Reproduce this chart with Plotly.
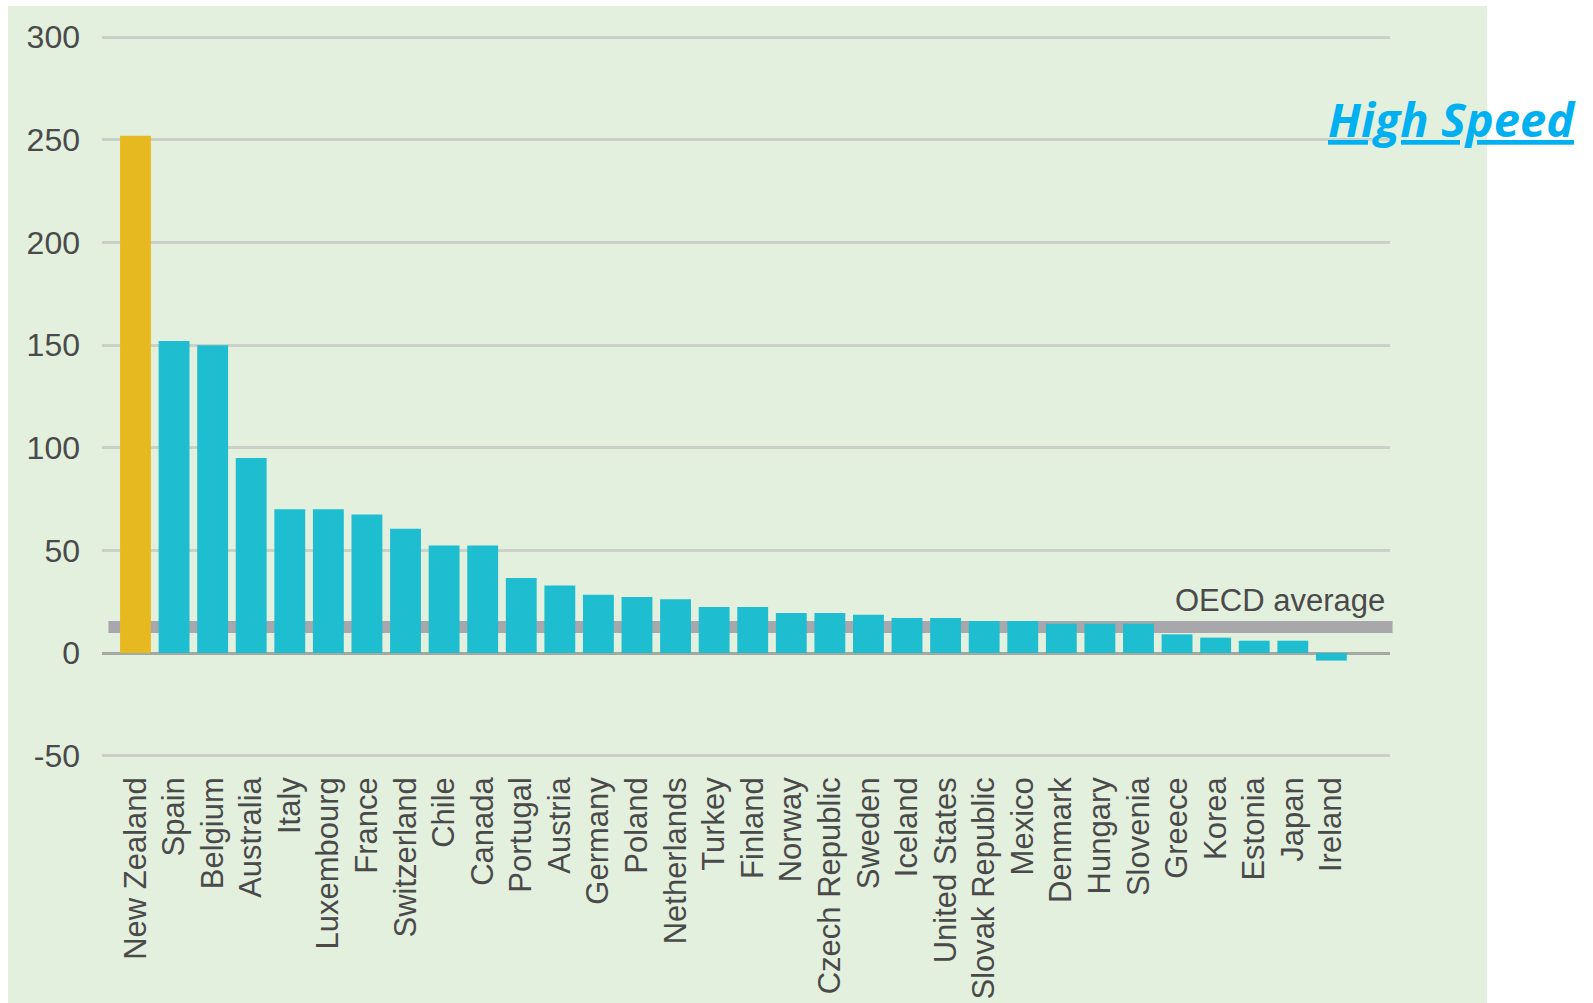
import plotly.graph_objects as go

countries = ["New Zealand", "Spain", "Belgium", "Australia", "Italy", "Luxembourg", "France",
             "Switzerland", "Chile", "Canada", "Portugal", "Austria", "Germany", "Poland",
             "Netherlands", "Turkey", "Finland", "Norway", "Czech Republic", "Sweden", "Iceland",
             "United States", "Slovak Republic", "Mexico", "Denmark", "Hungary", "Slovenia",
             "Greece", "Korea", "Estonia", "Japan", "Ireland"]
values = [252, 152, 150, 95, 70, 70, 67.5, 60.6, 52.4, 52.4, 36.5, 32.9, 28.4, 27.3,
          26.2, 22.4, 22.4, 19.5, 19.5, 18.7, 17.0, 17.0, 15.6, 15.6, 14.3, 14.3, 14.3,
          9.1, 7.5, 6.0, 6.0, -3.7]
highlight = "New Zealand"
oecd_average = 12.7
ytick_vals = [-50, 0, 50, 100, 150, 200, 250, 300]
ytick_text = ["-50", "0", "50", "100", "150", "200", "250", "300"]

TEAL = "#1EBDCF"
GOLD = "#E6B920"
BG = "#E4F0DE"
FONT = "Liberation Sans, Arial, sans-serif"
TXT = "#4a4a4a"

colors = [GOLD if c == highlight else TEAL for c in countries]

fig = go.Figure()
fig.add_trace(go.Bar(x=countries, y=values, marker=dict(color=colors, line=dict(width=0)),
                     showlegend=False))

W, H = 1593, 1003
L, R, T, B = 102, 1390, 27, 770

fig.update_layout(
    width=W, height=H,
    margin=dict(l=L, r=W - R, t=T, b=H - B, pad=0, autoexpand=False),
    paper_bgcolor="white",
    plot_bgcolor=BG,
    bargap=0.2,
    font=dict(family=FONT, size=31, color=TXT),
    xaxis=dict(type="category", range=[-0.868, 32.52], showgrid=False, zeroline=False,
               showline=False, ticks="", tickangle=-90, automargin=False,
               tickfont=dict(family=FONT, size=31, color=TXT)),
    yaxis=dict(range=[-57, 305], tickvals=ytick_vals, ticktext=ytick_text,
               showgrid=True, gridcolor="#CBD1C9", gridwidth=3,
               zeroline=True, zerolinecolor="#A3A8A0", zerolinewidth=3,
               showline=False, ticks="", ticklabelstandoff=21, automargin=False,
               tickfont=dict(family=FONT, size=32, color=TXT)),
    shapes=[
        dict(type="rect", xref="paper", yref="paper",
             x0=(8 - L) / (R - L), x1=(1487 - L) / (R - L),
             y0=(B - 1003) / (B - T), y1=(B - 6) / (B - T),
             fillcolor=BG, line=dict(width=0), layer="below"),
        dict(type="line", xref="paper", yref="y", x0=0.005, x1=1.002,
             y0=oecd_average, y1=oecd_average,
             line=dict(color="#A8A8AC", width=12), layer="between"),
    ],
    annotations=[
        dict(text="OECD average", xref="paper", yref="y", x=0.998, y=oecd_average,
             xanchor="right", yanchor="bottom", yshift=7, showarrow=False,
             font=dict(family=FONT, size=31, color=TXT)),
        dict(text="<u>High Speed</u>", xref="paper", yref="paper",
             x=(1452 - L) / (R - L), y=(B - 119) / (B - T),
             xanchor="center", yanchor="middle", showarrow=False,
             font=dict(family="Open Sans", size=47, color="#00B0F0",
                       weight="bold", style="italic")),
    ],
)

fig.write_html("out.html")
